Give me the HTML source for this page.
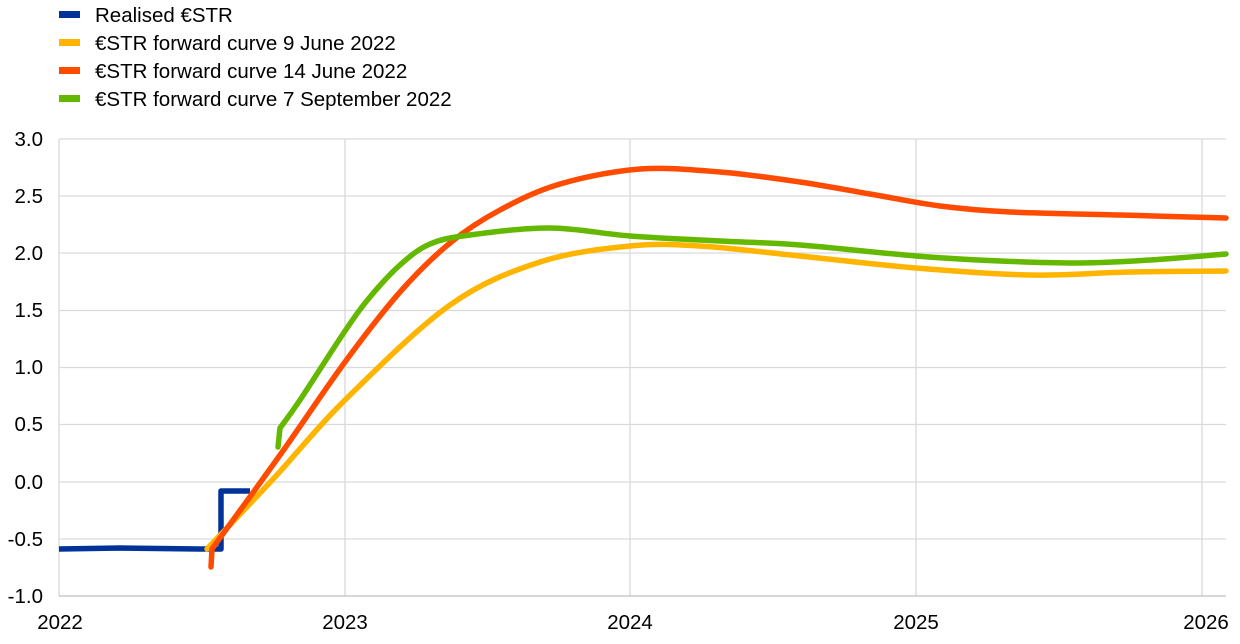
<!DOCTYPE html>
<html><head><meta charset="utf-8"><style>
body{margin:0;background:#fff;width:1240px;height:639px;overflow:hidden;font-family:"Liberation Sans",sans-serif}
svg text{font-family:"Liberation Sans",sans-serif;font-size:20.5px;fill:#000}
</style></head><body>
<svg width="1240" height="639" xmlns="http://www.w3.org/2000/svg">
<g stroke="#d9d9d9" stroke-width="1.3">
<line x1="59" y1="139" x2="1226" y2="139"/><line x1="59" y1="196" x2="1226" y2="196"/>
<line x1="59" y1="253" x2="1226" y2="253"/><line x1="59" y1="310.5" x2="1226" y2="310.5"/>
<line x1="59" y1="367.5" x2="1226" y2="367.5"/><line x1="59" y1="424.5" x2="1226" y2="424.5"/>
<line x1="59" y1="482" x2="1226" y2="482"/><line x1="59" y1="539" x2="1226" y2="539"/>
<line x1="59" y1="139" x2="59" y2="596"/><line x1="345" y1="139" x2="345" y2="596"/>
<line x1="630" y1="139" x2="630" y2="596"/><line x1="916" y1="139" x2="916" y2="596"/>
<line x1="1202" y1="139" x2="1202" y2="596"/>
<line x1="59" y1="596" x2="1226" y2="596" stroke="#bfbfbf"/>
</g>
<g text-anchor="end">
<text x="43" y="146">3.0</text><text x="43" y="203">2.5</text><text x="43" y="260">2.0</text>
<text x="43" y="317">1.5</text><text x="43" y="374">1.0</text><text x="43" y="431">0.5</text>
<text x="43" y="489">0.0</text><text x="43" y="546">-0.5</text><text x="43" y="603">-1.0</text>
</g>
<g text-anchor="middle">
<text x="60" y="629">2022</text><text x="345" y="629">2023</text><text x="630" y="629">2024</text>
<text x="916" y="629">2025</text><text x="1206" y="629">2026</text>
</g>
<g>
<rect x="59" y="11" width="21" height="7" fill="#003299"/><text x="95" y="22">Realised €STR</text>
<rect x="59" y="39" width="21" height="7" fill="#ffb400"/><text x="95" y="50">€STR forward curve 9 June 2022</text>
<rect x="59" y="67" width="21" height="7" fill="#ff4b00"/><text x="95" y="78">€STR forward curve 14 June 2022</text>
<rect x="59" y="95" width="21" height="7" fill="#65b800"/><text x="95" y="106">€STR forward curve 7 September 2022</text>
</g>
<polyline fill="none" stroke="#003299" stroke-width="5.5" stroke-linejoin="round" points="59,549 120,548 200,549 221,549 221,491 235,491 250,491"/>
<path id="y" fill="none" stroke="#ffb400" stroke-width="5.5" stroke-linecap="round"/>
<path id="o" fill="none" stroke="#ff4b00" stroke-width="5.5" stroke-linecap="round"/>
<path id="g" fill="none" stroke="#65b800" stroke-width="5.5" stroke-linecap="round"/>
</svg>
<script>
function cr(p){let d="M"+p[0][0]+","+p[0][1];for(let i=0;i<p.length-1;i++){const a=p[Math.max(0,i-1)],b=p[i],c=p[i+1],e=p[Math.min(p.length-1,i+2)];d+=" C"+(b[0]+(c[0]-a[0])/6)+","+(b[1]+(c[1]-a[1])/6)+" "+(c[0]-(e[0]-b[0])/6)+","+(c[1]-(e[1]-b[1])/6)+" "+c[0]+","+c[1];}return d;}
document.getElementById("y").setAttribute("d",cr([[207,549],[275,477],[345,400],[450,305],[540,262],[630,246],[700,246],[800,256],[916,268],[1030,275],[1130,272],[1226,271]]));
document.getElementById("o").setAttribute("d","M211,567 L212,549 "+cr([[212,549],[280,455],[345,362],[400,292],[450,243],[500,210],[560,184],[640,169],[720,172],[800,182],[870,194],[940,206],[1010,212],[1120,215],[1226,218]]).slice(1).replace(/^[^C]*/,"L212,549 "));
document.getElementById("g").setAttribute("d","M278,447 L280,428 "+cr([[280,428],[300,400],[345,331],[370,297],[400,265],[430,244],[470,235],[550,228],[630,236],[720,241],[800,245],[916,256],[1000,261],[1080,263],[1150,260],[1226,254]]).replace(/^M[^C]*/,""));
</script>
</body></html>
